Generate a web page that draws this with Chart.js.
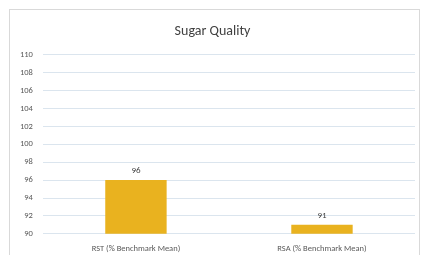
<!DOCTYPE html>
<html>
<head>
<meta charset="utf-8">
<script src="https://cdn.jsdelivr.net/npm/chart.js@4"></script>
<style>
  html, body { margin: 0; padding: 0; background: #fff; }
  #box {
    position: absolute; left: 9px; top: 9px; width: 409px; height: 246px;
    border: 1px solid #d9d9d9; border-bottom: none; background: #fff;
  }
  #c { display: block; }
</style>
</head>
<body>
<div id="box"><canvas id="c" width="409" height="246"></canvas></div>
<script>
// valores
const categories = ["RST (% Benchmark Mean)", "RSA (% Benchmark Mean)"];
const sugarValues = [96, 91];
const yMin = 90, yMax = 110, yStep = 2;

// etiqueta de valor encima de cada barra
const valueLabels = {
  id: "valueLabels",
  afterDatasetsDraw(chart){
    const ctx = chart.ctx;
    const meta = chart.getDatasetMeta(0);
    ctx.save();
    ctx.font = "9px Calibri, Carlito, 'Open Sans', sans-serif";
    ctx.fillStyle = "#404040";
    ctx.textAlign = "center";
    ctx.textBaseline = "bottom";
    meta.data.forEach((bar, i) => {
      ctx.fillText(String(sugarValues[i]), bar.x, bar.y - 5);
    });
    ctx.restore();
  }
};

new Chart(document.getElementById("c"), {
  type: "bar",
  data: {
    labels: categories,
    datasets: [{
      data: sugarValues,
      backgroundColor: "#E9B21F",
      categoryPercentage: 1,
      barPercentage: 0.33
    }]
  },
  options: {
    responsive: false,
    animation: false,
    layout: { padding: { top: 4, right: 4, bottom: 0, left: 0 } },
    plugins: {
      legend: { display: false },
      tooltip: { enabled: false },
      title: {
        display: true,
        text: "Sugar Quality",
        color: "#404040",
        font: { size: 14, family: "Calibri, Carlito, 'Open Sans', sans-serif", weight: "normal" },
        padding: { top: 9, bottom: 15 }
      }
    },
    scales: {
      x: {
        grid: { display: false },
        border: { display: false },
        ticks: {
          color: "#595959",
          font: { size: 8.5, family: "Calibri, Carlito, 'Open Sans', sans-serif" },
          padding: 2
        }
      },
      y: {
        min: yMin, max: yMax,
        grid: { color: "#dbe5ee", drawTicks: false },
        border: { display: false },
        ticks: {
          stepSize: yStep,
          color: "#595959",
          font: { size: 8.5, family: "Calibri, Carlito, 'Open Sans', sans-serif" },
          padding: 10
        }
      }
    }
  },
  plugins: [valueLabels]
});
</script>
</body>
</html>
